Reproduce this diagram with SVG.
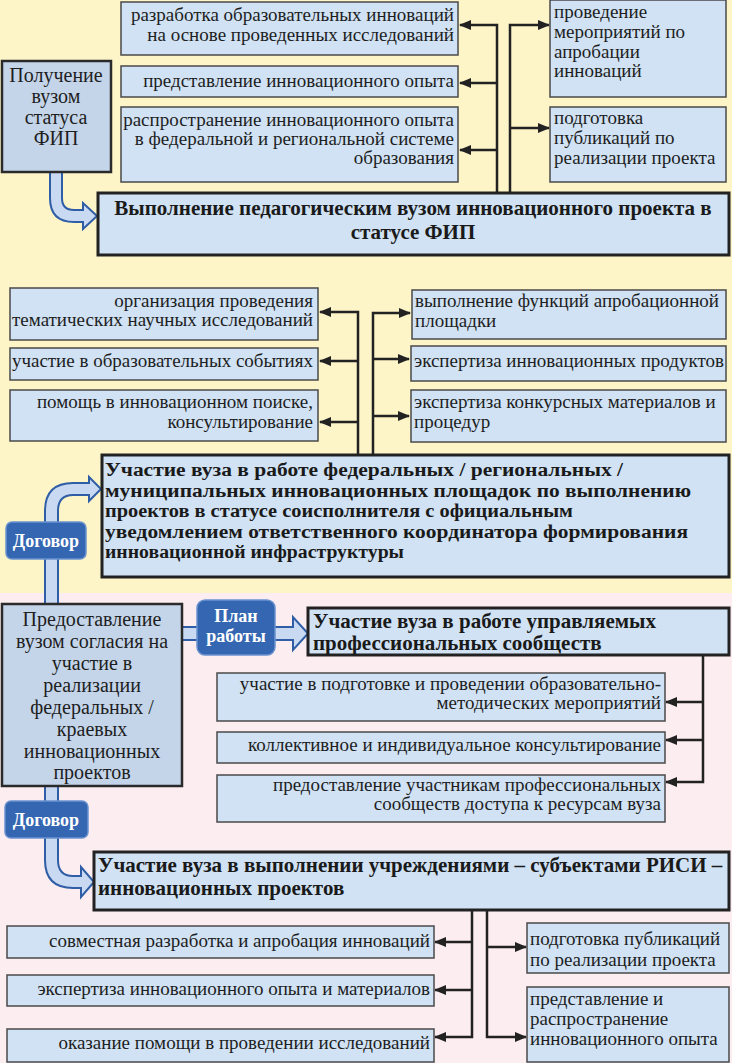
<svg xmlns="http://www.w3.org/2000/svg" width="732" height="1063" viewBox="0 0 732 1063">
<defs>
<style>
.bx{fill:#d0e2f4;stroke:#4a4a4a;stroke-width:1.5}
.bxd{fill:#c4d5ea;stroke:#2a2a2a;stroke-width:2.5}
.mb{fill:#d0e2f4;stroke:#222;stroke-width:3}
text{font-family:"Liberation Serif","DejaVu Serif","Times New Roman",serif}
.t{font-size:19px;fill:#1e1e1e}
.tl{font-size:20px;fill:#1e1e1e}
.b{font-size:21px;font-weight:bold;fill:#1a1a1a}
.bm{font-size:18.5px;font-weight:bold;fill:#1a1a1a}
.w{font-size:18px;font-weight:bold;fill:#fff}
.r{text-anchor:end}
.c{text-anchor:middle}
.ln{fill:none;stroke:#222;stroke-width:2.5}
.ba{fill:#c9d9f2;stroke:#2f5ea6;stroke-width:2}
.bd{fill:#3466b2;stroke:#6a92cf;stroke-width:1.5}
</style>
<marker id="ah" markerWidth="12" markerHeight="12" refX="11" refY="6" orient="auto" markerUnits="userSpaceOnUse"><path d="M0,1 L12,6 L0,11 Z" fill="#222"/></marker>
</defs>
<rect x="0" y="0" width="732" height="593" fill="#fdf4c8"/>
<rect x="0" y="593" width="732" height="470" fill="#fcedf0"/>

<g id="connectors">
<path class="ba" d="M50,172 L50,198 Q50,222 74,222 L83,222 L83,229 L97,216 L83,203 L83,210 L74,210 Q62,210 62,198 L62,172 Z"/>
<path class="ba" d="M45,604 L45,511 Q45,483 73,483 L89,483 L89,477 L101,489 L89,501 L89,495 L73,495 Q58,495 58,511 L58,604 Z"/>
<path class="ba" d="M182,627 L293,627 L293,617 L308,633.5 L293,650 L293,640 L182,640 Z"/>
<path class="ba" d="M45,786 L45,860 Q45,888 73,888 L81,888 L81,897 L94,882 L81,867 L81,876 L73,876 Q58,876 58,860 L58,786 Z"/>
<path class="ln" d="M497,193 V25 H460" marker-end="url(#ah)"/>
<path class="ln" d="M497,83 H460" marker-end="url(#ah)"/>
<path class="ln" d="M497,150 H460" marker-end="url(#ah)"/>
<path class="ln" d="M510,193 V25 H549" marker-end="url(#ah)"/>
<path class="ln" d="M510,128 H549" marker-end="url(#ah)"/>
<path class="ln" d="M358,455 V312 H320" marker-end="url(#ah)"/>
<path class="ln" d="M358,361 H320" marker-end="url(#ah)"/>
<path class="ln" d="M358,422 H320" marker-end="url(#ah)"/>
<path class="ln" d="M373,455 V313 H410" marker-end="url(#ah)"/>
<path class="ln" d="M373,359 H409" marker-end="url(#ah)"/>
<path class="ln" d="M373,416 H409" marker-end="url(#ah)"/>
<path class="ln" d="M703,655 V782 H666" marker-end="url(#ah)"/>
<path class="ln" d="M703,702 H666" marker-end="url(#ah)"/>
<path class="ln" d="M703,740 H666" marker-end="url(#ah)"/>
<path class="ln" d="M472,910 V1037 H435" marker-end="url(#ah)"/>
<path class="ln" d="M472,942 H435" marker-end="url(#ah)"/>
<path class="ln" d="M472,990 H435" marker-end="url(#ah)"/>
<path class="ln" d="M487,910 V1037 H526" marker-end="url(#ah)"/>
<path class="ln" d="M487,947 H526" marker-end="url(#ah)"/>
</g>

<g id="n-fip-status">
<rect class="bxd" x="2" y="61" width="109" height="111"/>
<text class="tl c" x="56" y="82">Получение</text>
<text class="tl c" x="56" y="103">вузом</text>
<text class="tl c" x="56" y="124">статуса</text>
<text class="tl c" x="56" y="145">ФИП</text>
</g>
<g id="n-t1">
<rect class="bx" x="121" y="2" width="337" height="53"/>
<text class="t r" x="454" y="21">разработка образовательных инноваций</text>
<text class="t r" x="454" y="41">на основе проведенных исследований</text>
</g>
<g id="n-t2">
<rect class="bx" x="121" y="66" width="337" height="31"/>
<text class="t r" x="454" y="87">представление инновационного опыта</text>
</g>
<g id="n-t3">
<rect class="bx" x="121" y="107" width="337" height="75"/>
<text class="t r" x="454" y="126">распространение инновационного опыта</text>
<text class="t r" x="454" y="145">в федеральной и региональной системе</text>
<text class="t r" x="454" y="164">образования</text>
</g>
<g id="n-t4">
<rect class="bx" x="550" y="0" width="176" height="97"/>
<text class="t" x="554" y="18">проведение</text>
<text class="t" x="554" y="38">мероприятий по</text>
<text class="t" x="554" y="58">апробации</text>
<text class="t" x="554" y="77">инноваций</text>
</g>
<g id="n-t5">
<rect class="bx" x="550" y="107" width="176" height="75"/>
<text class="t" x="554" y="124">подготовка</text>
<text class="t" x="554" y="144">публикаций по</text>
<text class="t" x="554" y="164">реализации проекта</text>
</g>
<g id="n-fip-main">
<rect class="mb" x="98" y="193" width="631" height="62"/>
<text class="b c" x="413" y="215">Выполнение педагогическим вузом инновационного проекта в</text>
<text class="b c" x="413" y="239">статусе ФИП</text>
</g>

<g id="n-m1">
<rect class="bx" x="10" y="288" width="308" height="52"/>
<text class="t r" x="313" y="307">организация проведения</text>
<text class="t r" x="313" y="326">тематических научных исследований</text>
</g>
<g id="n-m2">
<rect class="bx" x="10" y="348" width="308" height="32"/>
<text class="t r" x="313" y="367">участие в образовательных событиях</text>
</g>
<g id="n-m3">
<rect class="bx" x="10" y="390" width="308" height="51"/>
<text class="t r" x="313" y="408">помощь в инновационном поиске,</text>
<text class="t r" x="313" y="428">консультирование</text>
</g>
<g id="n-m4">
<rect class="bx" x="412" y="290" width="314" height="49"/>
<text class="t" x="415" y="307">выполнение функций апробационной</text>
<text class="t" x="415" y="327">площадки</text>
</g>
<g id="n-m5">
<rect class="bx" x="411" y="346" width="315" height="35"/>
<text class="t" x="414" y="367">экспертиза инновационных продуктов</text>
</g>
<g id="n-m6">
<rect class="bx" x="411" y="390" width="315" height="52"/>
<text class="t" x="414" y="408">экспертиза конкурсных материалов и</text>
<text class="t" x="414" y="428">процедур</text>
</g>
<g id="n-mid-main">
<rect class="mb" x="102" y="455" width="627" height="122"/>
<text class="bm" x="105" y="476" textLength="518" lengthAdjust="spacingAndGlyphs">Участие вуза в работе федеральных / региональных /</text>
<text class="bm" x="105" y="497" textLength="586" lengthAdjust="spacingAndGlyphs">муниципальных инновационных площадок по выполнению</text>
<text class="bm" x="105" y="517" textLength="468" lengthAdjust="spacingAndGlyphs">проектов в статусе соисполнителя с официальным</text>
<text class="bm" x="105" y="538" textLength="583" lengthAdjust="spacingAndGlyphs">уведомлением ответственного координатора формирования</text>
<text class="bm" x="105" y="558" textLength="299" lengthAdjust="spacingAndGlyphs">инновационной инфраструктуры</text>
</g>
<g id="n-dog1">
<rect class="bd" x="6" y="522" width="80" height="37" rx="6"/>
<text class="w c" x="46" y="547">Договор</text>
</g>

<g id="n-consent">
<rect class="bxd" x="2" y="604" width="180" height="182"/>
<text class="tl c" x="92" y="626">Предоставление</text>
<text class="tl c" x="92" y="648">вузом согласия на</text>
<text class="tl c" x="92" y="670">участие в</text>
<text class="tl c" x="92" y="692">реализации</text>
<text class="tl c" x="92" y="714">федеральных /</text>
<text class="tl c" x="92" y="736">краевых</text>
<text class="tl c" x="92" y="758">инновационных</text>
<text class="tl c" x="92" y="779">проектов</text>
</g>
<g id="n-plan">
<rect class="bd" x="197" y="600" width="78" height="55" rx="8"/>
<text class="w c" x="236" y="622">План</text>
<text class="w c" x="236" y="642">работы</text>
</g>
<g id="n-prof-main">
<rect class="mb" x="308" y="608" width="421" height="47"/>
<text class="b" x="313" y="628">Участие вуза в работе управляемых</text>
<text class="b" x="313" y="650">профессиональных сообществ</text>
</g>
<g id="n-p1">
<rect class="bx" x="217" y="673" width="448" height="48"/>
<text class="t r" x="661" y="690">участие в подготовке и проведении образовательно-</text>
<text class="t r" x="661" y="709">методических мероприятий</text>
</g>
<g id="n-p2">
<rect class="bx" x="217" y="732" width="448" height="31"/>
<text class="t r" x="661" y="751">коллективное и индивидуальное консультирование</text>
</g>
<g id="n-p3">
<rect class="bx" x="217" y="775" width="448" height="47"/>
<text class="t r" x="661" y="791">предоставление участникам профессиональных</text>
<text class="t r" x="661" y="810">сообществ доступа к ресурсам вуза</text>
</g>
<g id="n-dog2">
<rect class="bd" x="5" y="801" width="83" height="37" rx="6"/>
<text class="w c" x="46" y="826">Договор</text>
</g>
<g id="n-risi-main">
<rect class="mb" x="94" y="852" width="635" height="58"/>
<text class="b" x="98" y="872">Участие вуза в выполнении учреждениями – субъектами РИСИ –</text>
<text class="b" x="98" y="895">инновационных проектов</text>
</g>
<g id="n-r1">
<rect class="bx" x="7" y="926" width="427" height="32"/>
<text class="t r" x="430" y="947">совместная разработка и апробация инноваций</text>
</g>
<g id="n-r2">
<rect class="bx" x="7" y="975" width="427" height="31"/>
<text class="t r" x="430" y="995">экспертиза инновационного опыта и материалов</text>
</g>
<g id="n-r3">
<rect class="bx" x="7" y="1029" width="427" height="33"/>
<text class="t r" x="430" y="1049">оказание помощи в проведении исследований</text>
</g>
<g id="n-r4">
<rect class="bx" x="527" y="923" width="202" height="50"/>
<text class="t" x="530" y="945">подготовка публикаций</text>
<text class="t" x="530" y="966">по реализации проекта</text>
</g>
<g id="n-r5">
<rect class="bx" x="527" y="987" width="202" height="75"/>
<text class="t" x="530" y="1005">представление и</text>
<text class="t" x="530" y="1025">распространение</text>
<text class="t" x="530" y="1045">инновационного опыта</text>
</g>
</svg>
